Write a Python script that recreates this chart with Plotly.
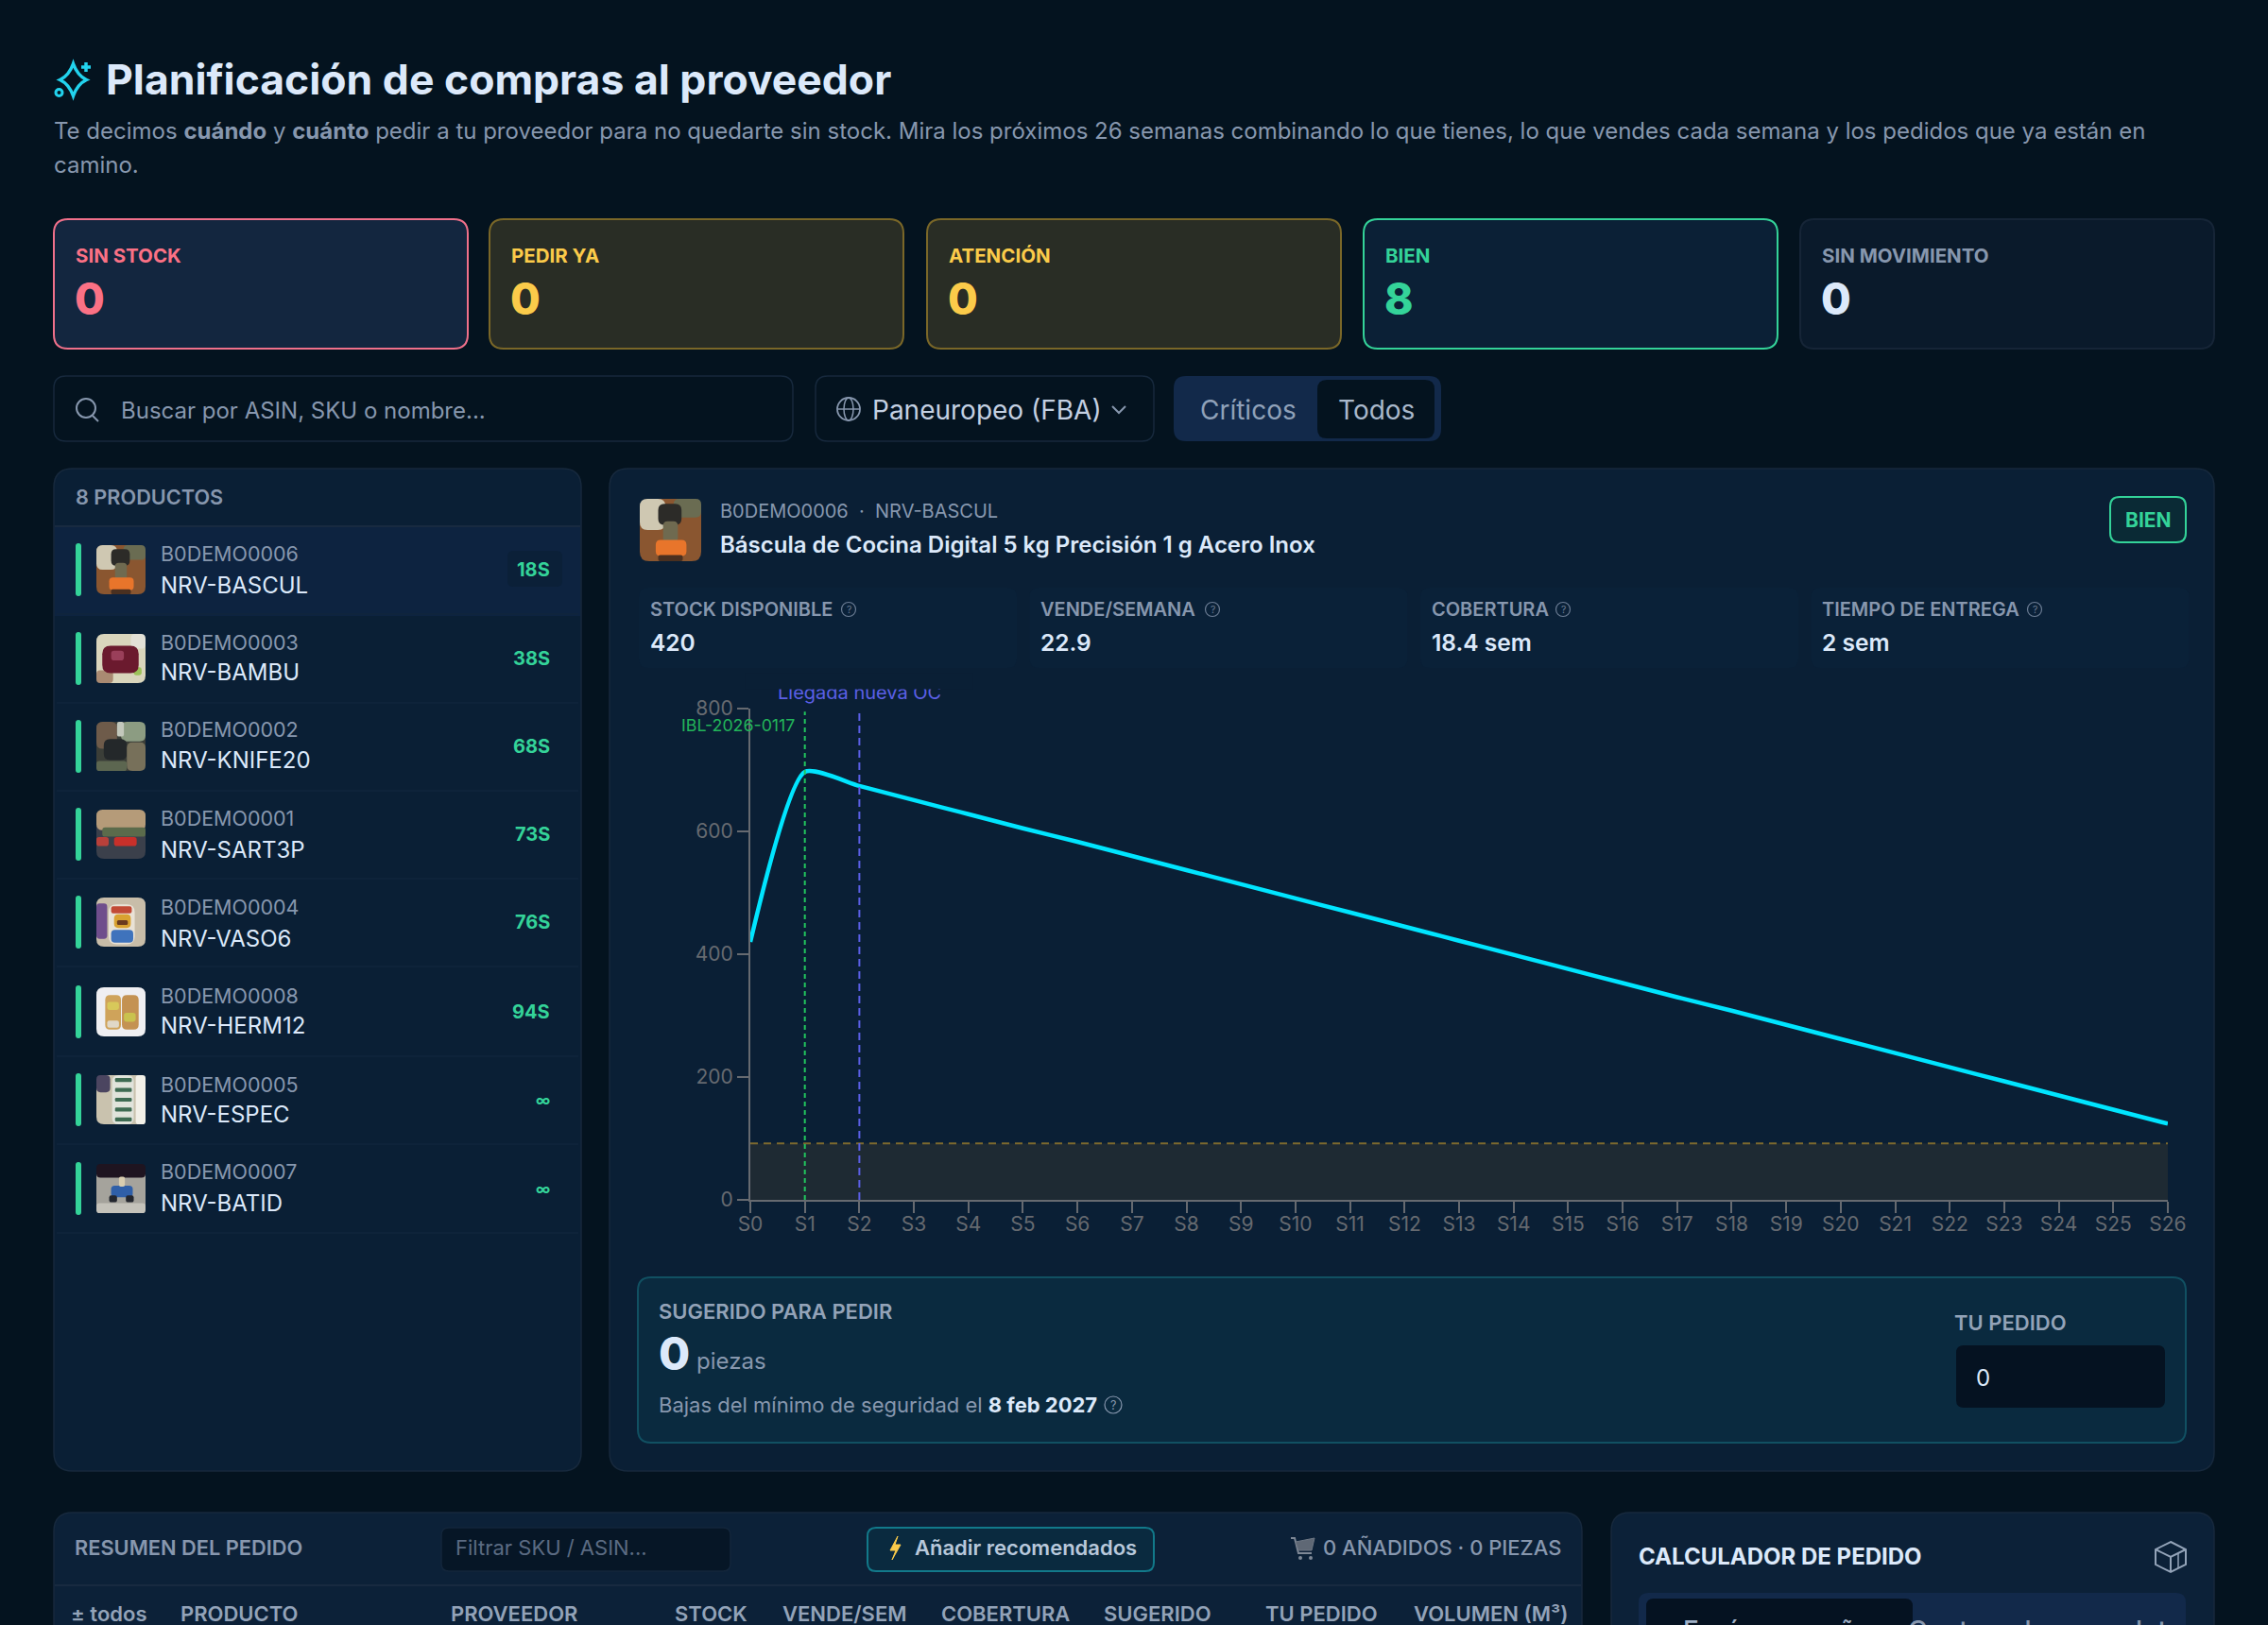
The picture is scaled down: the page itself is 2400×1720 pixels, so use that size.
import plotly.graph_objects as go

W = 2400
H = 1720
FONT = "Inter"

BG = "#04131F"
PANEL = "#0A1F35"
PANEL_LINE = "#17293D"
TEXT = "#DCE9FA"
MUTED = "#8797AE"
GREEN = "#34D399"
AMBER = "#FBCB4A"
PINK = "#FB7185"

# stock projection
week_labels = ["S" + str(i) for i in range(27)]
weeks = list(range(27))
stock = [420, 697, 674, 651, 628, 605, 583, 560, 537, 514, 491, 468, 445, 422,
         399, 376, 353, 330, 308, 285, 262, 239, 216, 193, 170, 147, 124]
y_ticks = [0, 200, 400, 600, 800]
safety_stock = 92
inbound_week = 1
inbound_label = "IBL-2026-0117"
new_po_week = 2
new_po_label = "Llegada nueva OC"

# kpi cards
kpi_labels = ["SIN STOCK", "PEDIR YA", "ATENCIÓN", "BIEN", "SIN MOVIMIENTO"]
kpi_values = [0, 0, 0, 8, 0]

# product list
asins = ["B0DEMO0006", "B0DEMO0003", "B0DEMO0002", "B0DEMO0001",
         "B0DEMO0004", "B0DEMO0008", "B0DEMO0005", "B0DEMO0007"]
skus = ["NRV-BASCUL", "NRV-BAMBU", "NRV-KNIFE20", "NRV-SART3P",
        "NRV-VASO6", "NRV-HERM12", "NRV-ESPEC", "NRV-BATID"]
coverage = ["18S", "38S", "68S", "73S", "76S", "94S", "∞", "∞"]

metric_labels = ["STOCK DISPONIBLE", "VENDE/SEMANA", "COBERTURA", "TIEMPO DE ENTREGA"]
metric_values = ["420", "22.9", "18.4 sem", "2 sem"]
table_columns = ["± todos", "PRODUCTO", "PROVEEDOR", "STOCK", "VENDE/SEM",
                 "COBERTURA", "SUGERIDO", "TU PEDIDO", "VOLUMEN (M³)"]

shapes = []
notes = []


def px(x):
    return x / W


def py(y):
    return 1 - y / H


def box(x0, y0, x1, y1, fill=None, line=None, r=0, width=1.5):
    # rounded rectangle, pixel coordinates from the top left of the page
    k = [
        (x0 + r, y0), (x1 - r, y0), (x1, y0), (x1, y0 + r), (x1, y1 - r), (x1, y1),
        (x1 - r, y1), (x0 + r, y1), (x0, y1), (x0, y1 - r), (x0, y0 + r), (x0, y0),
    ]
    k = [(px(a), py(b)) for a, b in k]
    path = (
        f"M{k[0][0]},{k[0][1]} L{k[1][0]},{k[1][1]} Q{k[2][0]},{k[2][1]} {k[3][0]},{k[3][1]} "
        f"L{k[4][0]},{k[4][1]} Q{k[5][0]},{k[5][1]} {k[6][0]},{k[6][1]} "
        f"L{k[7][0]},{k[7][1]} Q{k[8][0]},{k[8][1]} {k[9][0]},{k[9][1]} "
        f"L{k[10][0]},{k[10][1]} Q{k[11][0]},{k[11][1]} {k[0][0]},{k[0][1]} Z"
    )
    shapes.append(dict(
        type="path", path=path, xref="paper", yref="paper", layer="below",
        fillcolor=fill or "rgba(0,0,0,0)",
        line=dict(color=line or "rgba(0,0,0,0)", width=width if line else 0),
    ))


def stroke(points, color, width=2, fill=None, close=False):
    # icon outline from pixel points
    path = "M" + " L".join(f"{px(a)},{py(b)}" for a, b in points)
    if close:
        path += " Z"
    shapes.append(dict(
        type="path", path=path, xref="paper", yref="paper", layer="below",
        fillcolor=fill or "rgba(0,0,0,0)", line=dict(color=color, width=width),
    ))


def sparkle(cx, cy, rx, ry, color, width=3):
    # four point star with concave sides
    tips = [(cx, cy - ry), (cx + rx, cy), (cx, cy + ry), (cx - rx, cy)]
    ctrl = [(cx + 4.5, cy - 4.5), (cx + 4.5, cy + 4.5), (cx - 4.5, cy + 4.5), (cx - 4.5, cy - 4.5)]
    path = f"M{px(tips[0][0])},{py(tips[0][1])}"
    for i in range(4):
        a, b = ctrl[i]
        c, d = tips[(i + 1) % 4]
        path += f" Q{px(a)},{py(b)} {px(c)},{py(d)}"
    shapes.append(dict(
        type="path", path=path + " Z", xref="paper", yref="paper", layer="below",
        line=dict(color=color, width=width),
    ))


def circle(cx, cy, rx, ry=None, color=None, width=1.5, fill=None):
    ry = rx if ry is None else ry
    shapes.append(dict(
        type="circle", xref="paper", yref="paper", layer="below",
        x0=px(cx - rx), x1=px(cx + rx), y0=py(cy + ry), y1=py(cy - ry),
        fillcolor=fill or "rgba(0,0,0,0)",
        line=dict(color=color or "rgba(0,0,0,0)", width=width if color else 0),
    ))


def label(x, y, text, size, color, weight=400, anchor="left"):
    if anchor == "left":
        x -= 1.5
    notes.append(dict(
        x=px(x), y=py(y), xref="paper", yref="paper", text=text, showarrow=False,
        xanchor=anchor, yanchor="middle", borderpad=0,
        font=dict(family=FONT, size=size, color=color, weight=weight),
    ))


def help_icon(x, y, r=7.5, color="#6B7C93"):
    circle(x, y, r, color=color, width=1.2)
    label(x, y, "?", r * 1.4, color, anchor="center")


# thumbnails, blobs are (colour, x0, y0, x1, y1) as parts of the thumb
thumbs = [
    ("#8A5630", [("#CFC8B2", 0, 0, .42, .5), ("#6A6C52", .55, 0, 1, .3), ("#2C2B28", .3, .08, .68, .42),
                 ("#6F6A50", .38, .36, .62, .7), ("#E8752B", .26, .66, .76, .92), ("#4A3020", .3, .9, .7, 1)]),
    ("#D9D5BC", [("#A98A72", 0, .74, .34, 1), ("#E2E0D6", .7, 0, 1, .3), ("#9CC25A", .76, .68, .92, .84),
                 ("#6B1A2E", .12, .24, .86, .8), ("#9A3F5A", .3, .34, .56, .54)]),
    ("#3B3E38", [("#6E5B4A", 0, 0, .42, .55), ("#8C9C82", .5, 0, 1, .4), ("#C3C8BC", .42, 0, .56, .3),
                 ("#24282A", .15, .35, .62, .78), ("#77705A", .62, .42, 1, 1), ("#5C6650", 0, .8, .62, 1)]),
    ("#3B404B", [("#B59B79", 0, 0, 1, .42), ("#5B6B4B", .12, .36, 1, .55), ("#C8302A", .36, .56, .82, .74),
                 ("#B8403A", 0, .56, .25, .74)]),
    ("#C8BDA9", [("#6F4E8C", 0, .12, .22, .84), ("#E9E2D6", .25, .14, .78, .95), ("#C24A35", .3, .18, .72, .32),
                 ("#D9A231", .36, .34, .7, .62), ("#6A3A1E", .42, .46, .64, .56), ("#3F73BC", .3, .66, .75, .92)]),
    ("#EFEFF2", [("#CFA35A", .18, .16, .5, .86), ("#C49252", .52, .16, .86, .86), ("#D8C85A", .22, .3, .46, .46),
                 ("#C9C24E", .56, .52, .8, .7), ("#E0D8C8", .22, .68, .46, .82)]),
    ("#C9C2AE", [("#4B4560", 0, 0, .28, .35), ("#E0E3DB", .32, 0, .76, 1), ("#F2F0E8", .8, 0, 1, 1),
                 ("#3E6B52", .38, .06, .72, .14), ("#3E6B52", .38, .26, .72, .34), ("#3E6B52", .38, .46, .72, .54),
                 ("#3E6B52", .38, .66, .72, .74), ("#3E6B52", .38, .86, .72, .94)]),
    ("#A5A39C", [("#1E1420", 0, 0, 1, .28), ("#C4C2BA", 0, .8, 1, 1), ("#2F5FA8", .3, .44, .74, .68),
                 ("#23262E", .26, .64, .42, .78), ("#23262E", .6, .64, .76, .78), ("#D8CDB0", .46, .26, .58, .46)]),
]


def thumb(x0, y0, size_x, size_y, idx, r=8):
    base, blobs = thumbs[idx]
    box(x0, y0, x0 + size_x, y0 + size_y, fill=base, r=r)
    for color, a, b, c, d in blobs:
        corner = 0.3 * min((c - a) * size_x, (d - b) * size_y)
        box(x0 + a * size_x, y0 + b * size_y, x0 + c * size_x, y0 + d * size_y, fill=color, r=corner)


# header
sparkle(77.5, 84.5, 14, 17, "#22D3EE", 3.5)
stroke([(91, 66), (91, 76)], "#22D3EE", 3.5)
stroke([(86, 71), (96, 71)], "#22D3EE", 3.5)
circle(62.5, 98, 3.5, color="#22D3EE", width=3)
label(112, 84, "Planificación de compras al proveedor", 44.5, TEXT, 700)
label(57, 139, "Te decimos <b>cuándo</b> y <b>cuánto</b> pedir a tu proveedor para no quedarte sin stock. "
               "Mira los próximos 26 semanas combinando lo que tienes, lo que vendes cada semana y los pedidos que ya están en",
      24, MUTED)
label(57, 174, "camino.", 24, MUTED)

# kpi cards
kpi_x = [57, 518, 981, 1443, 1905]
kpi_fill = ["#13263F", "#292D25", "#292D25", "#0B2036", "#0A1A2B"]
kpi_line = ["#F0708A", "#7A6728", "#7A6728", "#34D399", "#162537"]
kpi_text = [PINK, AMBER, AMBER, GREEN, MUTED]
kpi_num = [PINK, AMBER, AMBER, GREEN, TEXT]
for i in range(5):
    box(kpi_x[i], 232, kpi_x[i] + 438, 369, kpi_fill[i], kpi_line[i], r=15, width=2)
    label(kpi_x[i] + 23, 270, kpi_labels[i], 20.5, kpi_text[i], 700)
    label(kpi_x[i] + 22, 316, str(kpi_values[i]), 46, kpi_num[i], 800)

# filter row
box(57, 398, 839, 467, BG, PANEL_LINE, r=13)
circle(91, 432, 10, color=MUTED, width=2)
stroke([(98, 440), (104, 446)], MUTED, 2)
label(128, 434, "Buscar por ASIN, SKU o nombre...", 24, MUTED)
box(863, 398, 1221, 467, BG, PANEL_LINE, r=13)
circle(898, 433, 12, color=MUTED, width=1.8)
circle(898, 433, 5, 12, color=MUTED, width=1.5)
stroke([(886, 433), (910, 433)], MUTED, 1.5)
label(923, 434, "Paneuropeo (FBA)", 28, "#C3D0E2")
stroke([(1177, 430), (1184, 437), (1191, 430)], MUTED, 2)
box(1242, 398, 1525, 467, "#12294A", None, r=13)
box(1394, 402, 1518, 464, BG, None, r=10)
label(1270, 434, "Críticos", 28, "#8FA1B9")
label(1416, 434, "Todos", 28, "#A9B8CB")

# product list
box(57, 496, 615, 1557, PANEL, PANEL_LINE, r=20)
label(80, 526, "8 PRODUCTOS", 21.7, MUTED, 600)
box(58, 557, 614, 652, "#0D2340")
box(537, 583, 595, 621, "#0B2038", None, r=6)
row_y = [603, 697, 790, 883, 976, 1071, 1164, 1258]
asin_y = [586, 680, 772, 866, 960, 1054, 1148, 1240]
sku_y = [619, 711, 805, 899, 993, 1085, 1179, 1273]
for i in range(8):
    y = row_y[i]
    box(80, y - 28, 86, y + 28, GREEN, r=3)
    thumb(102, y - 26, 52, 52, i)
    label(171, asin_y[i], asins[i], 21.5, MUTED)
    label(171, sku_y[i], skus[i], 24, TEXT)
    size = 15.5 if coverage[i] == "∞" else 20
    label(583, y, coverage[i], size, GREEN, 700, anchor="right")
    stroke([(60, y + 47), (612, y + 47)], "#11263C", 1.5)
stroke([(58, 557), (614, 557)], "#182A40", 2)

# product detail
box(645, 496, 2343, 1557, PANEL, PANEL_LINE, r=20)
thumb(677, 528, 65, 66, 0, r=10)
label(762, 541, "B0DEMO0006  ·  NRV-BASCUL", 20, MUTED)
label(762, 576, "Báscula de Cocina Digital 5 kg Precisión 1 g Acero Inox", 24, TEXT, 600)
box(2233, 526, 2313, 574, "#0A2A35", GREEN, r=10, width=2)
label(2273, 550, "BIEN", 21, GREEN, 700, anchor="center")
help_x = [898, 1283, 1654, 2153]
for i in range(4):
    x = 676 + 413.5 * i
    box(x, 622, x + 400, 707, "#0A2138", None, r=10)
    label(x + 12, 645, metric_labels[i], 20, MUTED, 600)
    label(x + 12, 680, metric_values[i], 24.5, TEXT, 600)
    help_icon(help_x[i], 645)

# suggestion block
box(675, 1352, 2313, 1527, "#0A2A3F", "#115062", r=14, width=2)
label(697, 1388, "SUGERIDO PARA PEDIR", 22, "#93A3B8", 600)
label(697, 1432, "0", 48, TEXT, 800)
label(737, 1440, "piezas", 24, MUTED)
label(697, 1487, "Bajas del mínimo de seguridad el <b style='color:#DCE9FA'>8 feb 2027</b>", 22, MUTED)
help_icon(1178, 1487, 9, MUTED)
label(2068, 1400, "TU PEDIDO", 22, "#93A3B8", 600)
box(2070, 1424, 2291, 1490, "#051221", None, r=8)
label(2091, 1458, "0", 24, TEXT)

# bottom panels
box(57, 1601, 1674, 1760, "#0C2138", PANEL_LINE, r=20)
label(79, 1638, "RESUMEN DEL PEDIDO", 21.8, MUTED, 600)
box(467, 1617, 773, 1663, "#061626", "#13263B", r=8)
label(482, 1638, "Filtrar SKU / ASIN...", 22, "#5B6B82")
box(918, 1617, 1221, 1663, "#0A2A3F", "#12798A", r=9, width=2)
stroke([(950, 1626), (942, 1641), (948, 1641), (944, 1651), (953, 1635), (947, 1635)], "#FBCB4A", 1, fill="#FBCB4A", close=True)
label(968, 1638, "Añadir recomendados", 22, "#B8C8DB", 600)
stroke([(1366, 1628), (1370, 1628), (1374, 1644), (1388, 1644)], "#7E8896", 2)
stroke([(1371, 1632), (1391, 1628), (1388, 1641), (1374, 1641)], "#6E7784", 1, fill="#5F6875", close=True)
circle(1376, 1649, 2, fill="#7E8896")
circle(1387, 1649, 2, fill="#7E8896")
label(1400, 1638, "0 AÑADIDOS · 0 PIEZAS", 22, MUTED, 500)
stroke([(58, 1678), (1673, 1678)], "#182A40", 2)
table_x = [75, 191, 477, 714, 828, 996, 1168, 1339, 1496]
for i in range(len(table_columns)):
    label(table_x[i], 1708, table_columns[i], 22, "#93A3B8", 600)

box(1705, 1601, 2343, 1760, "#0C2138", PANEL_LINE, r=20)
label(1734, 1647, "CALCULADOR DE PEDIDO", 24, TEXT, 700)
stroke([(2297, 1632), (2313, 1640), (2313, 1656), (2297, 1664), (2281, 1656), (2281, 1640)], "#93A3B8", 2, close=True)
stroke([(2281, 1640), (2297, 1648), (2313, 1640)], "#93A3B8", 2)
stroke([(2297, 1648), (2297, 1664)], "#93A3B8", 2)
stroke([(2305, 1644), (2305, 1660)], "#93A3B8", 1.5)
box(1734, 1686, 2313, 1760, "#12294A", None, r=10)
box(1742, 1692, 2024, 1760, "#051221", None, r=8)
label(1881, 1726, "Envío pequeño", 28, "#9FB0C6", 500, anchor="center")
label(2164, 1726, "Contenedor completo", 28, "#8797AE", 500, anchor="center")

# chart
fig = go.Figure()
fig.add_trace(go.Scatter(
    x=[weeks[0], weeks[-1]], y=[safety_stock, safety_stock], mode="lines",
    line=dict(color="#7D6A2E", width=2, dash="8px,6px"),
    fill="tozeroy", fillcolor="#1E2A33",
))
fig.add_trace(go.Scatter(
    x=weeks, y=stock, mode="lines",
    line=dict(color="#00E5FF", width=4.5, shape="spline", smoothing=0.6),
))
fig.add_trace(go.Scatter(
    x=[inbound_week, inbound_week], y=[0, 795], mode="lines",
    line=dict(color="#22C55E", width=2, dash="5px,4px"),
))
fig.add_trace(go.Scatter(
    x=[new_po_week, new_po_week], y=[0, 800], mode="lines",
    line=dict(color="#5B5FE6", width=2, dash="8px,5px"),
))

fig.update_layout(
    width=W, height=H,
    margin=dict(l=0, r=0, t=0, b=0, autoexpand=False),
    paper_bgcolor=BG,
    plot_bgcolor="rgba(0,0,0,0)",
    showlegend=False,
    hovermode=False,
    font=dict(family=FONT),
    shapes=shapes,
    annotations=notes,
    xaxis=dict(
        domain=[px(794), px(2294)], range=[0, 26],
        tickmode="array", tickvals=weeks, ticktext=week_labels,
        showgrid=False, zeroline=False, showline=True, linecolor="#666A70", linewidth=2,
        ticks="outside", ticklen=12, tickwidth=1.5, tickcolor="#666A70",
        tickfont=dict(family=FONT, size=21, color="#666A70"),
        ticklabelstandoff=-6,
        anchor="y",
    ),
    yaxis=dict(
        domain=[py(1270), py(750)], range=[0, 800],
        tickmode="array", tickvals=y_ticks,
        showgrid=False, zeroline=False, showline=True, linecolor="#666A70", linewidth=2,
        ticks="outside", ticklen=12, tickwidth=1.5, tickcolor="#666A70",
        tickfont=dict(family=FONT, size=21, color="#666A70"),
        anchor="x",
    ),
)

# point labels, the top of the purple one is cut off in the source
fig.add_annotation(x=inbound_week, y=py(767), xref="x", yref="paper", text=inbound_label, showarrow=False,
                   xanchor="right", xshift=-10, yanchor="middle", borderpad=0,
                   font=dict(family=FONT, size=17.8, color="#22B55A"))
fig.add_annotation(x=new_po_week, y=py(733), xref="x", yref="paper", text=new_po_label, showarrow=False,
                   xanchor="center", yanchor="middle", borderpad=0,
                   font=dict(family=FONT, size=20, color="#5B5FE6"))
fig.add_annotation(x=px(909), y=py(721), xref="paper", yref="paper", text=" ", showarrow=False,
                   xanchor="center", yanchor="middle", width=240, height=16, bgcolor=PANEL, borderpad=0)

fig.write_html("out.html", config=dict(displayModeBar=False), post_script="document.body.style.margin='0';")
